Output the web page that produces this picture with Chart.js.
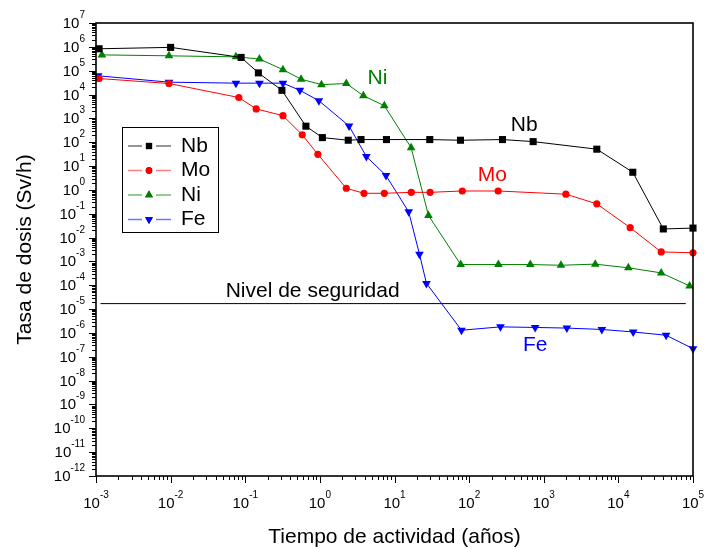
<!DOCTYPE html>
<html>
<head>
<meta charset="utf-8">
<script src="https://cdn.jsdelivr.net/npm/chart.js@4/dist/chart.umd.min.js"></script>
<style>
  html, body { margin: 0; padding: 0; background: #fff; }
</style>
</head>
<body>
<canvas id="myChart" width="705" height="549"></canvas>
<script>
// tiempo (años) / tasa de dosis (Sv/h)
let nbTime = [0.0011, 0.01, 0.088, 0.15, 0.31, 0.65, 1.08, 2.4, 3.56, 7.8, 29.7, 76.6, 280, 721, 5140, 15600, 40000, 100000];
let nbDose = [8.3e5, 9.5e5, 3.6e5, 8.1e4, 1.5e4, 470, 156, 121, 129, 129, 129, 121, 129, 106, 51, 5.5, 0.023, 0.025];

let moTime = [0.0011, 0.0095, 0.082, 0.14, 0.32, 0.58, 0.94, 2.26, 3.9, 7.3, 16.8, 30, 81, 245, 1980, 5140, 14400, 37500, 100000];
let moDose = [4.7e4, 2.9e4, 7.5e3, 2.5e3, 1.3e3, 204, 31, 1.17, 0.72, 0.72, 0.79, 0.79, 0.9, 0.9, 0.66, 0.26, 0.026, 0.0025, 0.0023];

let niTime = [0.0012, 0.0095, 0.075, 0.155, 0.32, 0.56, 1.05, 2.26, 3.83, 7.3, 16.7, 28.5, 77, 247, 660, 1700, 4900, 13600, 37500, 90000];
let niDose = [4.6e5, 4.2e5, 3.8e5, 3.1e5, 1.1e5, 4.4e4, 2.6e4, 2.9e4, 8.9e3, 3.4e3, 59, 0.085, 7.4e-4, 7.4e-4, 7.4e-4, 6.9e-4, 7.7e-4, 5.4e-4, 3.3e-4, 9.4e-5];

let feTime = [0.00107, 0.0095, 0.075, 0.155, 0.32, 0.54, 0.97, 2.46, 4.2, 7.7, 15.5, 21.6, 26.8, 79, 263, 767, 2040, 6000, 15800, 43600, 100000];
let feDose = [6.1e4, 3.3e4, 3.0e4, 3.0e4, 3.0e4, 1.5e4, 5.5e3, 480, 25, 4, 0.12, 0.002, 1.2e-4, 1.3e-6, 1.8e-6, 1.7e-6, 1.6e-6, 1.4e-6, 1.1e-6, 8e-7, 2.2e-7];

let safeTime = [0.00115, 80000];
let safeDose = [1.7e-5, 1.7e-5];

let seriesNames = ["Nb", "Mo", "Ni", "Fe"];
let seriesColors = ["#000000", "#ff0000", "#008000", "#0000ff"];
let legendColors = ["rgba(0,0,0,0.55)", "rgba(255,0,0,0.5)", "rgba(0,128,0,0.55)", "rgba(0,0,255,0.55)"];
let markerStyles = ["rect", "circle", "triangle", "triangle"];
let markerRot = [0, 0, 0, 180];
let markerSize = [5, 3.6, 5, 5];

// etiquetas dentro del grafico [texto, x, y, color]
let notes = [
  ["Ni", 5.9, 5e4, "#008000"],
  ["Nb", 546, 530, "#000000"],
  ["Mo", 204, 4.3, "#ff0000"],
  ["Fe", 767, 3e-7, "#0000ff"],
  ["Nivel de seguridad", 0.8, 5.5e-5, "#000000"]
];

let xDecades = [-3, -2, -1, 0, 1, 2, 3, 4, 5];
let yDecades = [];
for (let k = -12; k <= 7; k++) yDecades.push(k);

const FONT = "'Liberation Sans', Arial, sans-serif";

function pts(xs, ys) {
  return xs.map((v, i) => ({ x: v, y: ys[i] }));
}

let allTimes = [nbTime, moTime, niTime, feTime];
let allDoses = [nbDose, moDose, niDose, feDose];

let datasets = allTimes.map((t, i) => ({
  label: seriesNames[i],
  data: pts(t, allDoses[i]),
  showLine: true,
  borderColor: seriesColors[i],
  backgroundColor: seriesColors[i],
  borderWidth: 1,
  pointStyle: markerStyles[i],
  rotation: markerRot[i],
  pointRadius: markerSize[i],
  pointBorderWidth: 0,
  clip: false
}));

datasets.push({
  label: "seguridad",
  data: pts(safeTime, safeDose),
  showLine: true,
  borderColor: "#000000",
  borderWidth: 1,
  pointRadius: 0
});

function drawPow(ctx, exp, x, y, align, big, small, rise) {
  ctx.font = big + "px " + FONT;
  let w1 = ctx.measureText("10").width;
  ctx.font = small + "px " + FONT;
  let w2 = ctx.measureText(String(exp)).width;
  let start = align === "center" ? x - (w1 + w2) / 2 : x - (w1 + w2);
  ctx.textAlign = "left";
  ctx.textBaseline = "alphabetic";
  ctx.font = big + "px " + FONT;
  ctx.fillText("10", start, y);
  ctx.font = small + "px " + FONT;
  ctx.fillText(String(exp), start + w1, y - rise);
}

const axesPlugin = {
  id: "axesPlugin",
  afterDatasetsDraw(chart) {
    const ctx = chart.ctx;
    const a = chart.chartArea;
    const xs = chart.scales.x, ys = chart.scales.y;
    ctx.save();
    ctx.strokeStyle = "#000";
    ctx.fillStyle = "#000";

    // ticks
    ctx.lineWidth = 1;
    ctx.beginPath();
    xDecades.forEach(k => {
      let p = Math.round(xs.getPixelForValue(Math.pow(10, k))) + 0.5;
      ctx.moveTo(p, a.bottom); ctx.lineTo(p, a.bottom + 7);
      if (k < 5) {
        for (let m = 2; m <= 9; m++) {
          let q = Math.round(xs.getPixelForValue(m * Math.pow(10, k))) + 0.5;
          ctx.moveTo(q, a.bottom); ctx.lineTo(q, a.bottom + 4);
        }
      }
    });
    yDecades.forEach(k => {
      let p = Math.round(ys.getPixelForValue(Math.pow(10, k))) + 0.5;
      ctx.moveTo(a.left, p); ctx.lineTo(a.left - 7, p);
      if (k < 7) {
        for (let m = 2; m <= 9; m++) {
          let q = Math.round(ys.getPixelForValue(m * Math.pow(10, k))) + 0.5;
          ctx.moveTo(a.left, q); ctx.lineTo(a.left - 4, q);
        }
      }
    });
    ctx.stroke();

    // marco
    ctx.lineWidth = 1.6;
    ctx.strokeRect(a.left, a.top, a.right - a.left, a.bottom - a.top);

    // etiquetas de ejes
    xDecades.forEach(k => {
      drawPow(ctx, k, xs.getPixelForValue(Math.pow(10, k)), a.bottom + 32, "center", 15, 10, 10);
    });
    yDecades.forEach(k => {
      drawPow(ctx, k, a.left - 11, ys.getPixelForValue(Math.pow(10, k)) + 5, "right", 15, 10, 10);
    });

    ctx.font = "21px " + FONT;
    ctx.textAlign = "center";
    ctx.textBaseline = "middle";
    ctx.fillText("Tiempo de actividad (años)", (a.left + a.right) / 2, 537);
    ctx.save();
    ctx.translate(25, (a.top + a.bottom) / 2);
    ctx.rotate(-Math.PI / 2);
    ctx.fillText("Tasa de dosis (Sv/h)", 0, 0);
    ctx.restore();

    // notas
    notes.forEach(n => {
      ctx.fillStyle = n[3];
      ctx.fillText(n[0], xs.getPixelForValue(n[1]), ys.getPixelForValue(n[2]));
    });

    // leyenda
    ctx.fillStyle = "#fff";
    ctx.fillRect(122.5, 127.5, 96, 105);
    ctx.lineWidth = 1;
    ctx.strokeStyle = "#000";
    ctx.strokeRect(122.5, 127.5, 96, 105);
    seriesNames.forEach((name, i) => {
      let yy = 146 + i * 24.5;
      ctx.strokeStyle = legendColors[i];
      ctx.lineWidth = 1.5;
      ctx.beginPath();
      ctx.moveTo(128, yy); ctx.lineTo(142, yy);
      ctx.moveTo(156, yy); ctx.lineTo(171, yy);
      ctx.stroke();
      Chart.helpers.drawPoint(ctx, {
        pointStyle: markerStyles[i], rotation: markerRot[i],
        radius: markerSize[i] * 0.9, borderWidth: 0
      }, 149, yy);
      ctx.fillStyle = seriesColors[i];
      ctx.fill();
      ctx.fillStyle = "#000";
      ctx.textAlign = "left";
      ctx.fillText(name, 181, yy);
    });
    ctx.restore();
  }
};

new Chart("myChart", {
  type: "scatter",
  data: { datasets: datasets },
  options: {
    responsive: false,
    animation: false,
    layout: { padding: { top: 23, right: 12, left: 0, bottom: 0 } },
    plugins: {
      legend: { display: false },
      tooltip: { enabled: false }
    },
    scales: {
      x: {
        type: "logarithmic",
        min: 1e-3,
        max: 1e5,
        ticks: { display: false },
        grid: { display: false },
        border: { display: false },
        afterFit(s) { s.height = 73; }
      },
      y: {
        type: "logarithmic",
        min: 1e-12,
        max: 1e7,
        ticks: { display: false },
        grid: { display: false },
        border: { display: false },
        afterFit(s) { s.width = 96; }
      }
    }
  },
  plugins: [axesPlugin]
});
</script>
</body>
</html>
